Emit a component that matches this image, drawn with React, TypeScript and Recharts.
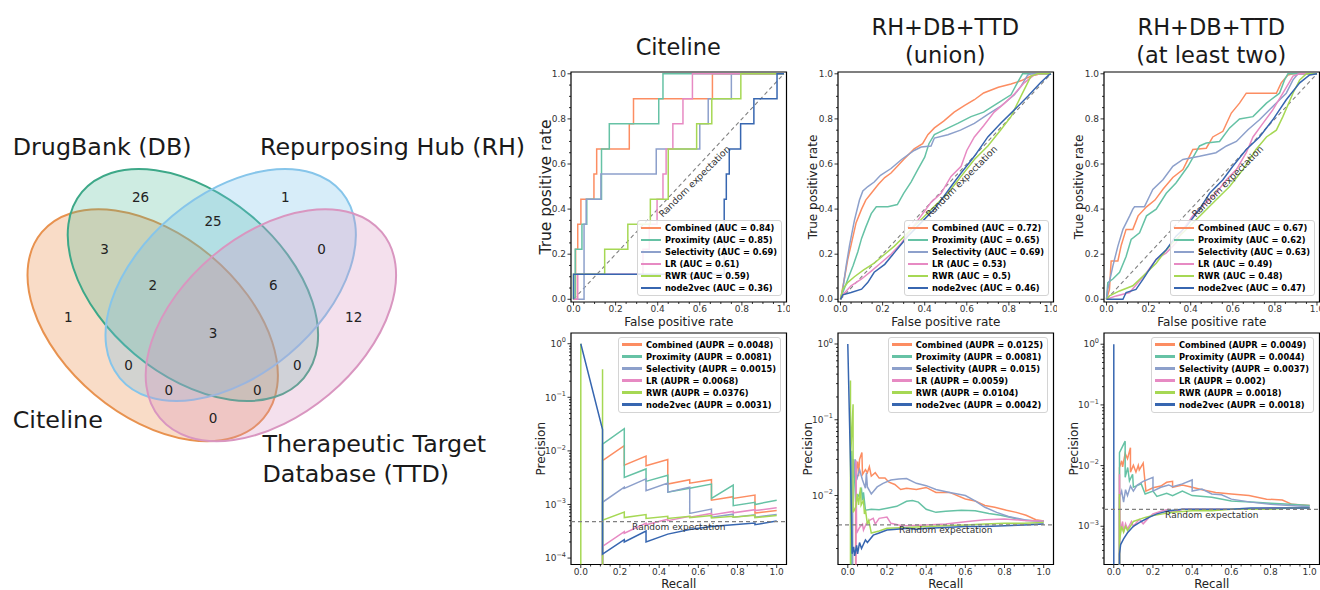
import React from 'react';
import {
  LineChart,
  Line,
  XAxis,
  YAxis,
  ReferenceLine,
  ReferenceArea,
  ReferenceDot,
  Legend,
  ScatterChart,
  Scatter,
} from 'recharts';

const FONT = '"DejaVu Sans", Verdana, Arial, sans-serif';

// ---- methods / legend values ----
const methods = ['Combined', 'Proximity', 'Selectivity', 'LR', 'RWR', 'node2vec'];
const methodColors = ['#fc8d62', '#66c2a5', '#8da0cb', '#e78ac3', '#a6d854', '#3766b0'];

const panelTitles = [['Citeline'], ['RH+DB+TTD', '(union)'], ['RH+DB+TTD', '(at least two)']];

const rocAuc = [
  [0.84, 0.85, 0.69, 0.61, 0.59, 0.36],
  [0.72, 0.65, 0.69, 0.53, 0.5, 0.46],
  [0.67, 0.62, 0.63, 0.49, 0.48, 0.47],
];
const prAupr = [
  [0.0048, 0.0081, 0.0015, 0.0068, 0.0376, 0.0031],
  [0.0125, 0.0081, 0.015, 0.0059, 0.0104, 0.0042],
  [0.0049, 0.0044, 0.0037, 0.002, 0.0018, 0.0018],
];
const prRandom = [0.00048, 0.0041, 0.0019];

// ---- ticks ----
const linTicks = [0, 0.2, 0.4, 0.6, 0.8, 1.0];
const linMinorTicks = [0.05, 0.1, 0.15, 0.25, 0.3, 0.35, 0.45, 0.5, 0.55, 0.65, 0.7, 0.75, 0.85, 0.9, 0.95];
const logTicks = [1e-4, 1e-3, 1e-2, 1e-1, 1];
const logTickExp = ['\u22124', '\u22123', '\u22122', '\u22121', '0'];
const logMinorMult = [2, 3, 4, 5, 6, 7, 8, 9];

// ---- ROC: Citeline ----
type Pt = [number, number];
const rocCiteCombined: Pt[] = [[0,0],[0.01,0],[0.01,0.222],[0.02,0.222],[0.02,0.333],[0.035,0.333],[0.035,0.444],[0.097,0.444],[0.097,0.556],[0.11,0.556],[0.11,0.667],[0.265,0.667],[0.265,0.778],[0.285,0.778],[0.285,0.889],[0.66,0.889],[0.66,1],[1,1]];
const rocCiteProximity: Pt[] = [[0,0],[0.008,0],[0.008,0.222],[0.04,0.222],[0.04,0.333],[0.063,0.333],[0.063,0.444],[0.133,0.444],[0.133,0.667],[0.17,0.667],[0.17,0.778],[0.405,0.778],[0.405,0.889],[0.425,0.889],[0.425,1],[1,1]];
const rocCiteSelectivity: Pt[] = [[0,0],[0.05,0],[0.05,0.333],[0.06,0.333],[0.06,0.444],[0.13,0.444],[0.13,0.556],[0.393,0.556],[0.393,0.667],[0.6,0.667],[0.6,0.778],[0.64,0.778],[0.64,0.889],[0.75,0.889],[0.75,1],[1,1]];
const rocCiteLR: Pt[] = [[0,0],[0.02,0],[0.02,0.111],[0.33,0.111],[0.33,0.222],[0.36,0.222],[0.36,0.333],[0.397,0.333],[0.397,0.444],[0.425,0.444],[0.425,0.556],[0.44,0.556],[0.44,0.667],[0.472,0.667],[0.472,0.778],[0.52,0.778],[0.52,0.889],[0.565,0.889],[0.565,1],[1,1]];
const rocCiteRWR: Pt[] = [[0,0],[0,0.111],[0.148,0.111],[0.148,0.222],[0.258,0.222],[0.258,0.333],[0.365,0.333],[0.365,0.444],[0.45,0.444],[0.45,0.667],[0.585,0.667],[0.585,0.778],[0.657,0.778],[0.657,0.889],[0.795,0.889],[0.795,1],[1,1]];
const rocCiteNode2vec: Pt[] = [[0,0],[0,0.111],[0.716,0.111],[0.716,0.444],[0.726,0.444],[0.726,0.556],[0.74,0.556],[0.74,0.667],[0.794,0.667],[0.794,0.778],[0.857,0.778],[0.857,0.889],[0.967,0.889],[0.967,1],[1,1]];

// ---- ROC: union ----
const rocUnionCombined: Pt[] = [[0,0],[0.006,0.03],[0.02,0.1],[0.035,0.18],[0.05,0.24],[0.074,0.34],[0.1,0.4],[0.12,0.44],[0.146,0.47],[0.18,0.51],[0.21,0.54],[0.24,0.56],[0.27,0.59],[0.3,0.62],[0.35,0.667],[0.39,0.69],[0.415,0.73],[0.446,0.76],[0.49,0.79],[0.54,0.83],[0.59,0.86],[0.636,0.885],[0.68,0.915],[0.75,0.94],[0.81,0.955],[0.86,0.97],[0.905,0.99],[0.95,1],[1,1]];
const rocUnionProximity: Pt[] = [[0,0],[0.011,0.03],[0.035,0.09],[0.06,0.15],[0.082,0.21],[0.1,0.27],[0.12,0.32],[0.146,0.38],[0.17,0.41],[0.225,0.41],[0.27,0.42],[0.3,0.47],[0.335,0.52],[0.367,0.575],[0.4,0.63],[0.42,0.69],[0.446,0.73],[0.49,0.75],[0.557,0.78],[0.62,0.81],[0.68,0.83],[0.747,0.87],[0.81,0.907],[0.84,0.96],[0.865,1],[1,1]];
const rocUnionSelectivity: Pt[] = [[0,0],[0.011,0.045],[0.027,0.15],[0.043,0.24],[0.066,0.35],[0.09,0.44],[0.106,0.48],[0.13,0.5],[0.16,0.52],[0.19,0.55],[0.24,0.58],[0.29,0.62],[0.35,0.66],[0.383,0.675],[0.43,0.68],[0.446,0.715],[0.51,0.73],[0.57,0.75],[0.636,0.78],[0.7,0.82],[0.76,0.855],[0.826,0.907],[0.857,0.944],[0.89,0.995],[0.905,1],[1,1]];
const rocUnionLR: Pt[] = [[0,0],[0.011,0.02],[0.05,0.06],[0.1,0.09],[0.146,0.125],[0.19,0.16],[0.24,0.2],[0.29,0.25],[0.335,0.31],[0.383,0.37],[0.43,0.43],[0.478,0.47],[0.525,0.545],[0.573,0.59],[0.6,0.66],[0.636,0.72],[0.68,0.77],[0.73,0.83],[0.78,0.87],[0.826,0.91],[0.873,0.96],[0.92,0.995],[0.95,1],[1,1]];
const rocUnionRWR: Pt[] = [[0,0],[0.011,0.045],[0.035,0.075],[0.066,0.1],[0.11,0.13],[0.16,0.16],[0.21,0.2],[0.256,0.236],[0.32,0.295],[0.383,0.354],[0.446,0.413],[0.51,0.47],[0.573,0.545],[0.636,0.62],[0.7,0.68],[0.76,0.75],[0.81,0.81],[0.857,0.9],[0.905,0.99],[0.937,1],[1,1]];
const rocUnionNode2vec: Pt[] = [[0,0],[0.011,0.02],[0.05,0.03],[0.1,0.045],[0.13,0.075],[0.16,0.12],[0.21,0.155],[0.256,0.207],[0.32,0.28],[0.383,0.34],[0.446,0.4],[0.478,0.44],[0.525,0.5],[0.573,0.56],[0.636,0.634],[0.7,0.72],[0.76,0.78],[0.826,0.84],[0.89,0.9],[0.95,0.96],[0.99,0.995],[1,1]];

// ---- ROC: at least two ----
const rocTwoCombined: Pt[] = [[0,0],[0.014,0.044],[0.022,0.17],[0.054,0.17],[0.07,0.24],[0.093,0.31],[0.125,0.31],[0.15,0.37],[0.19,0.41],[0.23,0.44],[0.27,0.49],[0.315,0.54],[0.363,0.575],[0.41,0.664],[0.474,0.67],[0.505,0.72],[0.553,0.745],[0.593,0.826],[0.632,0.87],[0.664,0.914],[0.807,0.914],[0.83,0.96],[0.862,0.995],[0.886,1],[1,1]];
const rocTwoProximity: Pt[] = [[0,0],[0.006,0.074],[0.03,0.09],[0.062,0.12],[0.093,0.19],[0.117,0.265],[0.157,0.295],[0.19,0.37],[0.236,0.4],[0.284,0.47],[0.33,0.516],[0.387,0.59],[0.442,0.68],[0.474,0.693],[0.537,0.7],[0.585,0.76],[0.632,0.8],[0.696,0.81],[0.76,0.87],[0.822,0.914],[0.846,0.973],[0.862,1],[1,1]];
const rocTwoSelectivity: Pt[] = [[0,0],[0.006,0.044],[0.03,0.147],[0.054,0.236],[0.078,0.31],[0.11,0.37],[0.125,0.4],[0.133,0.41],[0.18,0.41],[0.22,0.487],[0.268,0.53],[0.315,0.59],[0.363,0.62],[0.442,0.634],[0.52,0.65],[0.57,0.68],[0.617,0.7],[0.672,0.752],[0.727,0.796],[0.79,0.855],[0.854,0.914],[0.886,0.973],[0.91,1],[1,1]];
const rocTwoLR: Pt[] = [[0,0],[0.046,0.015],[0.11,0.03],[0.15,0.074],[0.19,0.118],[0.236,0.177],[0.284,0.206],[0.33,0.25],[0.363,0.31],[0.41,0.37],[0.474,0.43],[0.52,0.47],[0.57,0.53],[0.617,0.575],[0.664,0.65],[0.696,0.72],[0.743,0.78],[0.79,0.84],[0.838,0.914],[0.886,0.99],[0.918,1],[1,1]];
const rocTwoRWR: Pt[] = [[0,0],[0.014,0.015],[0.062,0.037],[0.125,0.06],[0.19,0.118],[0.236,0.16],[0.284,0.22],[0.33,0.265],[0.395,0.324],[0.458,0.383],[0.52,0.44],[0.585,0.5],[0.648,0.575],[0.71,0.664],[0.76,0.72],[0.807,0.75],[0.838,0.81],[0.886,0.914],[0.918,0.973],[0.95,1],[1,1]];
const rocTwoNode2vec: Pt[] = [[0,0],[0.078,0],[0.093,0.03],[0.14,0.044],[0.173,0.088],[0.204,0.133],[0.236,0.177],[0.284,0.22],[0.33,0.28],[0.38,0.324],[0.442,0.4],[0.49,0.47],[0.553,0.53],[0.6,0.59],[0.664,0.664],[0.727,0.72],[0.79,0.796],[0.854,0.885],[0.918,0.96],[0.965,0.995],[1,1]];

// ---- PR: Citeline (1e-100 = zero precision, clipped off the log axis) ----
const prCiteCombined: Pt[] = [[0,1e-100],[0.111,1e-100],[0.111,0.0066],[0.222,0.0125],[0.222,0.0054],[0.333,0.008],[0.333,0.0053],[0.444,0.0069],[0.444,0.0024],[0.556,0.0029],[0.556,0.0025],[0.667,0.0029],[0.667,0.0012],[0.778,0.0014],[0.778,0.0013],[0.889,0.0015],[0.889,0.00069],[1,0.00077]];
const prCiteProximity: Pt[] = [[0,1e-100],[0.111,1e-100],[0.111,0.0134],[0.222,0.026],[0.222,0.0032],[0.333,0.0046],[0.333,0.0027],[0.444,0.0035],[0.444,0.0017],[0.556,0.002],[0.667,0.0024],[0.667,0.0013],[0.778,0.0023],[0.778,0.00095],[0.889,0.0011],[0.889,0.001],[1,0.0012]];
const prCiteSelectivity: Pt[] = [[0,1e-100],[0.111,1e-100],[0.111,0.0011],[0.222,0.0021],[0.222,0.002],[0.333,0.003],[0.333,0.0018],[0.444,0.0025],[0.444,0.0017],[0.556,0.0021],[0.556,0.00068],[0.667,0.00082],[0.667,0.00058],[0.778,0.00066],[0.778,0.00058],[0.889,0.00064],[0.889,0.00058],[1,0.00065]];
const prCiteLR: Pt[] = [[0,1e-100],[0.111,1e-100],[0.111,0.000165],[0.222,0.00031],[0.222,0.00029],[0.333,0.00045],[0.333,0.00042],[0.444,0.00053],[0.444,0.0005],[0.556,0.0006],[0.556,0.00058],[0.667,0.00068],[0.667,0.00064],[0.778,0.00074],[0.778,0.0007],[0.889,0.0008],[0.889,0.00077],[1,0.00087]];
const prCiteRWR: Pt[] = [[0,1],[0,1e-100],[0.111,1e-100],[0.111,0.333],[0.111,0.00051],[0.222,0.00072],[0.222,0.00057],[0.333,0.00065],[0.333,0.00055],[0.444,0.0006],[0.444,0.00055],[0.556,0.0006],[0.556,0.00057],[0.667,0.00062],[0.667,0.00056],[0.778,0.0006],[0.778,0.00058],[0.889,0.00063],[0.889,0.00057],[1,0.00062]];
const prCiteNode2vec: Pt[] = [[0,1],[0.111,0.025],[0.111,0.000119],[0.222,0.00022],[0.222,0.0002],[0.333,0.00032],[0.333,0.0002],[0.444,0.00028],[0.556,0.00034],[0.667,0.00039],[0.778,0.00042],[0.889,0.00045],[0.889,0.00042],[1,0.00049]];

// ---- PR: union ----
const prUnionCombined: Pt[] = [[0,1e-100],[0.04,1e-100],[0.04,0.02],[0.05,0.028],[0.055,0.018],[0.06,0.03],[0.072,0.037],[0.075,0.019],[0.09,0.022],[0.1,0.02],[0.11,0.024],[0.12,0.018],[0.14,0.02],[0.16,0.017],[0.19,0.017],[0.21,0.015],[0.24,0.014],[0.27,0.012],[0.3,0.0125],[0.35,0.012],[0.4,0.0128],[0.45,0.011],[0.52,0.011],[0.6,0.009],[0.65,0.0085],[0.7,0.0074],[0.75,0.007],[0.81,0.0064],[0.86,0.006],[0.91,0.0055],[0.96,0.0048],[1,0.0046]];
const prUnionProximity: Pt[] = [[0,1e-100],[0.02,1e-100],[0.02,0.039],[0.025,0.017],[0.03,0.03],[0.04,0.0086],[0.06,0.0105],[0.07,0.012],[0.075,0.0086],[0.08,0.011],[0.09,0.0064],[0.12,0.0066],[0.16,0.0065],[0.2,0.0068],[0.25,0.0072],[0.3,0.0084],[0.33,0.0086],[0.36,0.0082],[0.4,0.0066],[0.45,0.006],[0.5,0.0062],[0.58,0.0064],[0.65,0.0063],[0.72,0.0058],[0.78,0.0055],[0.85,0.005],[0.91,0.0047],[1,0.0046]];
const prUnionSelectivity: Pt[] = [[0,1e-100],[0.025,1e-100],[0.025,0.03],[0.03,0.018],[0.038,0.03],[0.045,0.016],[0.06,0.022],[0.075,0.016],[0.09,0.0125],[0.095,0.02],[0.1,0.013],[0.12,0.0105],[0.15,0.013],[0.18,0.0145],[0.22,0.016],[0.26,0.0165],[0.3,0.0168],[0.35,0.0145],[0.4,0.0135],[0.45,0.012],[0.52,0.011],[0.6,0.01],[0.65,0.0085],[0.7,0.007],[0.76,0.006],[0.82,0.0053],[0.9,0.0048],[1,0.0045]];
const prUnionLR: Pt[] = [[0,1e-100],[0.042,1e-100],[0.042,0.029],[0.045,0.0032],[0.06,0.0038],[0.075,0.0042],[0.08,0.0035],[0.095,0.0043],[0.11,0.0047],[0.13,0.005],[0.14,0.0042],[0.16,0.005],[0.2,0.0052],[0.22,0.0043],[0.26,0.0041],[0.3,0.004],[0.4,0.0041],[0.5,0.0042],[0.6,0.0045],[0.7,0.0048],[0.8,0.0049],[0.9,0.0047],[1,0.0046]];
const prUnionRWR: Pt[] = [[0,1e-100],[0.0137,1e-100],[0.0137,0.33],[0.0137,0.03],[0.027,0.16],[0.027,0.006],[0.041,0.0071],[0.048,0.0105],[0.055,0.0075],[0.065,0.0128],[0.068,0.0075],[0.08,0.0086],[0.085,0.0057],[0.09,0.0065],[0.1,0.0042],[0.107,0.0047],[0.12,0.0032],[0.14,0.0033],[0.16,0.0034],[0.2,0.0037],[0.3,0.0038],[0.4,0.0039],[0.5,0.004],[0.6,0.0041],[0.7,0.0042],[0.8,0.0043],[0.9,0.0043],[1,0.0044]];
const prUnionNode2vec: Pt[] = [[0,1],[0.014,0.024],[0.02,0.0035],[0.022,0.0017],[0.03,0.0021],[0.035,0.0016],[0.045,0.0022],[0.05,0.0017],[0.06,0.0024],[0.07,0.002],[0.09,0.0026],[0.1,0.0024],[0.13,0.003],[0.16,0.0032],[0.2,0.0035],[0.25,0.0036],[0.3,0.0037],[0.35,0.0036],[0.4,0.0037],[0.5,0.0038],[0.6,0.0039],[0.7,0.0039],[0.8,0.004],[0.9,0.0041],[1,0.0042]];

// ---- PR: at least two ----
const prTwoCombined: Pt[] = [[0,1e-100],[0.029,1e-100],[0.029,0.0093],[0.04,0.012],[0.045,0.0095],[0.058,0.016],[0.07,0.013],[0.085,0.0197],[0.085,0.0078],[0.1,0.0101],[0.113,0.0078],[0.125,0.0101],[0.13,0.0085],[0.15,0.011],[0.164,0.0038],[0.2,0.0043],[0.24,0.0046],[0.27,0.0053],[0.3,0.0055],[0.3,0.0044],[0.35,0.0048],[0.4,0.0044],[0.45,0.004],[0.52,0.0036],[0.6,0.0034],[0.69,0.0032],[0.78,0.0028],[0.86,0.0027],[0.91,0.0023],[1,0.0022]];
const prTwoProximity: Pt[] = [[0,1e-100],[0.029,1e-100],[0.029,0.0163],[0.058,0.0253],[0.058,0.0064],[0.071,0.0093],[0.08,0.0056],[0.096,0.0072],[0.1,0.0044],[0.14,0.005],[0.16,0.0034],[0.2,0.0038],[0.22,0.0031],[0.27,0.0035],[0.3,0.0032],[0.35,0.0038],[0.4,0.0032],[0.5,0.003],[0.6,0.0026],[0.7,0.0025],[0.8,0.0024],[0.9,0.0023],[1,0.0022]];
const prTwoSelectivity: Pt[] = [[0,1e-100],[0.029,1e-100],[0.029,0.003],[0.04,0.0038],[0.05,0.0025],[0.06,0.004],[0.07,0.0032],[0.085,0.0046],[0.1,0.0038],[0.12,0.0048],[0.15,0.0055],[0.2,0.0064],[0.2,0.0038],[0.24,0.0044],[0.28,0.0048],[0.3,0.0045],[0.35,0.005],[0.4,0.0058],[0.4,0.0038],[0.45,0.0041],[0.5,0.0034],[0.55,0.0033],[0.6,0.0028],[0.7,0.0025],[0.8,0.0023],[1,0.0021]];
const prTwoLR: Pt[] = [[0,1e-100],[0.029,1e-100],[0.029,0.0072],[0.032,0.0008],[0.045,0.0012],[0.05,0.0008],[0.06,0.0011],[0.07,0.0009],[0.09,0.0012],[0.1,0.001],[0.13,0.0013],[0.15,0.0011],[0.18,0.0014],[0.2,0.0016],[0.25,0.0018],[0.28,0.0019],[0.3,0.0017],[0.35,0.0019],[0.4,0.0019],[0.5,0.0019],[0.6,0.0019],[0.7,0.0019],[0.8,0.002],[0.9,0.002],[1,0.002]];
const prTwoRWR: Pt[] = [[0,1e-100],[0.029,1e-100],[0.029,0.0034],[0.03,0.0006],[0.04,0.001],[0.05,0.0008],[0.06,0.001],[0.07,0.00085],[0.085,0.001],[0.1,0.0012],[0.13,0.0013],[0.16,0.0014],[0.2,0.0015],[0.25,0.0016],[0.3,0.0017],[0.4,0.0018],[0.5,0.0018],[0.6,0.0019],[0.7,0.0019],[0.8,0.0019],[0.9,0.002],[1,0.002]];
const prTwoNode2vec: Pt[] = [[0,1],[0,1e-100],[0.029,1e-100],[0.029,0.00035],[0.035,0.0005],[0.05,0.00062],[0.07,0.00078],[0.1,0.001],[0.14,0.0012],[0.18,0.0014],[0.22,0.0016],[0.28,0.0018],[0.35,0.0019],[0.4,0.0019],[0.5,0.0019],[0.6,0.0019],[0.7,0.002],[0.8,0.002],[0.9,0.002],[1,0.002]];

const rocCurves = [
  [rocCiteCombined, rocCiteProximity, rocCiteSelectivity, rocCiteLR, rocCiteRWR, rocCiteNode2vec],
  [rocUnionCombined, rocUnionProximity, rocUnionSelectivity, rocUnionLR, rocUnionRWR, rocUnionNode2vec],
  [rocTwoCombined, rocTwoProximity, rocTwoSelectivity, rocTwoLR, rocTwoRWR, rocTwoNode2vec],
];
const prCurves = [
  [prCiteCombined, prCiteProximity, prCiteSelectivity, prCiteLR, prCiteRWR, prCiteNode2vec],
  [prUnionCombined, prUnionProximity, prUnionSelectivity, prUnionLR, prUnionRWR, prUnionNode2vec],
  [prTwoCombined, prTwoProximity, prTwoSelectivity, prTwoLR, prTwoRWR, prTwoNode2vec],
];

// ---- Venn ----
const vennSetNames = ['Citeline', 'DrugBank (DB)', 'Repurposing Hub (RH)', 'Therapeutic Target Database (TTD)'];
const vennRegionKeys = ['1000', '0100', '0010', '0001', '1100', '1010', '1001', '0110', '0101', '0011', '1110', '1101', '1011', '0111', '1111'];
const vennRegionCounts = [1, 26, 1, 12, 3, 0, 0, 25, 0, 0, 2, 0, 0, 6, 3];
// layout (pyvenn-style unit square)
const vennRegionAnchorX = [0.14, 0.32, 0.68, 0.85, 0.23, 0.29, 0.5, 0.5, 0.71, 0.77, 0.35, 0.61, 0.39, 0.65, 0.5];
const vennRegionAnchorY = [0.42, 0.72, 0.72, 0.42, 0.59, 0.3, 0.17, 0.66, 0.3, 0.59, 0.5, 0.24, 0.24, 0.5, 0.38];
const vennEllipseX = [0.35, 0.45, 0.544, 0.644];
const vennEllipseY = [0.4, 0.5, 0.5, 0.4];
const vennEllipseAngle = [140, 140, 40, 40];
const vennEllipseW = 0.72;
const vennEllipseH = 0.45;
const vennFill = ['rgba(235,140,70,0.30)', 'rgba(60,180,140,0.25)', 'rgba(110,190,235,0.28)', 'rgba(215,140,190,0.27)'];
const vennStroke = ['#e8924f', '#3da888', '#86c5ea', '#d996c0'];

// ---- geometry ----
const COL_LEFT = [570.5, 837.5, 1103.5];
const PLOT_W = 215.5;
const ROC_TOP = 72;
const ROC_H = 230;
const PR_TOP = 332.5;
const PR_H = 231.5;
const Y_AXIS_W = 40;
const X_AXIS_H = 30;
const M_TOP = 4;
const M_RIGHT = 4;
const ROC_X_DOMAIN: [number, number] = [-0.012, 1.012];
const ROC_Y_DOMAIN: [number, number] = [-0.012, 1.008];
const PR_X_DOMAIN: [number, number] = [-0.05, 1.05];
const PR_Y_DOMAINS: [number, number][] = [
  [Math.pow(10, -4.12), Math.pow(10, 0.2)],
  [Math.pow(10, -2.91), Math.pow(10, 0.145)],
  [Math.pow(10, -3.63), Math.pow(10, 0.185)],
];
const ROC_YLABEL_SIZE = [15.5, 12, 12];
const VENN_LEFT = 11.5;
const VENN_TOP = 84.3;
const VENN_PX = 402;

const toRows = (pts: Pt[]) => pts.map(([x, y]) => ({ x, y }));
const isMajor = (list: number[], v: number) => list.some((m) => Math.abs(m - v) <= 1e-6 * Math.max(Math.abs(m), 1e-9));

const BottomTick = (p: any) => {
  const { x, y, payload } = p;
  const v = payload.value;
  const major = isMajor(linTicks, v);
  return (
    <g>
      <line x1={x} x2={x} y1={y} y2={y + (major ? 3.5 : 2)} stroke="#000" strokeWidth={0.8} />
      {major && (
        <text x={x} y={y + 10} textAnchor="middle" fontSize={9} fontFamily={FONT} fill="#333">
          {v.toFixed(1)}
        </text>
      )}
    </g>
  );
};

const LeftLinTick = (p: any) => {
  const { x, y, payload } = p;
  const v = payload.value;
  const major = isMajor(linTicks, v);
  return (
    <g>
      <line x1={x} x2={x - (major ? 3.5 : 2)} y1={y} y2={y} stroke="#000" strokeWidth={0.8} />
      {major && (
        <text x={x - 5} y={y + 3.2} textAnchor="end" fontSize={9} fontFamily={FONT} fill="#333">
          {v.toFixed(1)}
        </text>
      )}
    </g>
  );
};

const LeftLogTick = (p: any) => {
  const { x, y, payload } = p;
  const v = payload.value;
  const idx = logTicks.findIndex((m) => Math.abs(m - v) / m < 1e-6);
  const major = idx >= 0;
  return (
    <g>
      <line x1={x} x2={x - (major ? 3.5 : 2)} y1={y} y2={y} stroke="#000" strokeWidth={0.8} />
      {major && (
        <text x={x - 5} y={y + 3.2} textAnchor="end" fontSize={9} fontFamily={FONT} fill="#333">
          10
          <tspan dy={-4.5} fontSize={6.5}>
            {logTickExp[idx]}
          </tspan>
        </text>
      )}
    </g>
  );
};

const xTitle = (text: string, dy: number, size: number) => (p: any) => {
  const vb = p.viewBox || {};
  return (
    <text x={vb.x + vb.width / 2} y={vb.y + dy} textAnchor="middle" fontSize={size} fontFamily={FONT} fill="#222">
      {text}
    </text>
  );
};

const yTitle = (text: string, dx: number, size: number) => (p: any) => {
  const vb = p.viewBox || {};
  const cx = vb.x + vb.width - dx;
  const cy = vb.y + vb.height / 2;
  return (
    <text
      x={cx}
      y={cy}
      transform={`rotate(-90 ${cx} ${cy})`}
      textAnchor="middle"
      dominantBaseline="central"
      fontSize={size}
      fontFamily={FONT}
      fill="#222"
    >
      {text}
    </text>
  );
};

const CurveLegend = (props: any) => {
  const items = [...(props.payload ?? [])].sort(
    (a: any, b: any) =>
      methods.indexOf(String(a.value).split(' ')[0]) - methods.indexOf(String(b.value).split(' ')[0])
  );
  return (
    <div
      style={{
        border: '1px solid #d4d4d4',
        borderRadius: 3,
        background: 'rgba(255,255,255,0.85)',
        padding: '1px 4px 1px 3px',
      }}
    >
      {items.map((it: any) => (
        <div key={it.value} style={{ display: 'flex', alignItems: 'center', height: 12, whiteSpace: 'nowrap' }}>
          <span style={{ display: 'inline-block', width: 20, height: 2.6, background: it.color, marginRight: 4, flex: 'none' }} />
          <span style={{ fontFamily: FONT, fontWeight: 700, fontSize: 8.3, color: '#000', lineHeight: '12px' }}>
            {it.value}
          </span>
        </div>
      ))}
    </div>
  );
};

const DiagLabel = (p: any) => {
  const vb = p.viewBox || {};
  const cx = vb.x + 5;
  const cy = vb.y + 6;
  return (
    <text
      x={cx}
      y={cy}
      transform={`rotate(-45 ${cx} ${cy})`}
      textAnchor="middle"
      dominantBaseline="central"
      fontSize={9.3}
      fontFamily={FONT}
      fill="#333"
    >
      Random expectation
    </text>
  );
};

const FlatLabel = (p: any) => {
  const vb = p.viewBox || {};
  return (
    <text x={vb.x} y={vb.y + 5.5} textAnchor="middle" dominantBaseline="central" fontSize={9} fontFamily={FONT} fill="#333">
      Random expectation
    </text>
  );
};

function RocPanel({ col }: { col: number }) {
  const width = Y_AXIS_W + PLOT_W + M_RIGHT;
  const height = M_TOP + ROC_H + X_AXIS_H;
  return (
    <div style={{ position: 'absolute', left: COL_LEFT[col] - Y_AXIS_W, top: ROC_TOP - M_TOP }}>
      <LineChart width={width} height={height} margin={{ top: M_TOP, right: M_RIGHT, bottom: 0, left: 0 }}>
        <XAxis
          type="number"
          dataKey="x"
          domain={ROC_X_DOMAIN}
          allowDataOverflow
          ticks={[...linTicks, ...linMinorTicks]}
          interval={0}
          axisLine={false}
          tickLine={false}
          tickSize={0}
          tickMargin={0}
          height={X_AXIS_H}
          tick={BottomTick}
          label={xTitle('False positive rate', 24, 12)}
        />
        <YAxis
          type="number"
          dataKey="y"
          domain={ROC_Y_DOMAIN}
          allowDataOverflow
          ticks={[...linTicks, ...linMinorTicks]}
          interval={0}
          axisLine={false}
          tickLine={false}
          tickSize={0}
          tickMargin={0}
          width={Y_AXIS_W}
          tick={LeftLinTick}
          label={yTitle('True positive rate', 25.5, ROC_YLABEL_SIZE[col])}
        />
        <ReferenceLine
          segment={[{ x: 0, y: 0 }, { x: 1, y: 1 }]}
          stroke="#808080"
          strokeDasharray="4 3"
          strokeWidth={1.1}
          ifOverflow="visible"
        />
        {methods.map((m, i) => (
          <Line
            key={m}
            data={toRows(rocCurves[col][i])}
            dataKey="y"
            name={`${m} (AUC = ${rocAuc[col][i]})`}
            type="linear"
            stroke={methodColors[i]}
            strokeWidth={1.5}
            dot={false}
            activeDot={false}
            isAnimationActive={false}
          />
        ))}
        <ReferenceDot x={0.55} y={0.55} r={0} fill="none" stroke="none" ifOverflow="visible" label={DiagLabel} />
        <ReferenceArea
          x1={ROC_X_DOMAIN[0]}
          x2={ROC_X_DOMAIN[1]}
          y1={ROC_Y_DOMAIN[0]}
          y2={ROC_Y_DOMAIN[1]}
          fill="none"
          fillOpacity={0}
          stroke="#000"
          strokeWidth={1.2}
          ifOverflow="visible"
        />
        <Legend
          layout="vertical"
          align="center"
          verticalAlign="middle"
          wrapperStyle={{ right: 8, bottom: 36, width: 'auto', height: 'auto' }}
          content={CurveLegend}
        />
      </LineChart>
    </div>
  );
}

function PrPanel({ col }: { col: number }) {
  const width = Y_AXIS_W + PLOT_W + M_RIGHT;
  const height = M_TOP + PR_H + X_AXIS_H;
  const yDomain = PR_Y_DOMAINS[col];
  const minor: number[] = [];
  logTicks.forEach((d) => {
    logMinorMult.forEach((k) => {
      const v = d * k;
      if (v > yDomain[0] && v < yDomain[1]) minor.push(v);
    });
  });
  const yTicks = [...logTicks.filter((v) => v >= yDomain[0] && v <= yDomain[1]), ...minor];
  return (
    <div style={{ position: 'absolute', left: COL_LEFT[col] - Y_AXIS_W, top: PR_TOP - M_TOP }}>
      <LineChart width={width} height={height} margin={{ top: M_TOP, right: M_RIGHT, bottom: 0, left: 0 }}>
        <XAxis
          type="number"
          dataKey="x"
          domain={PR_X_DOMAIN}
          allowDataOverflow
          ticks={[...linTicks, ...linMinorTicks]}
          interval={0}
          axisLine={false}
          tickLine={false}
          tickSize={0}
          tickMargin={0}
          height={X_AXIS_H}
          tick={BottomTick}
          label={xTitle('Recall', 23, 11.8)}
        />
        <YAxis
          type="number"
          dataKey="y"
          scale="log"
          domain={yDomain}
          allowDataOverflow
          ticks={yTicks}
          interval={0}
          axisLine={false}
          tickLine={false}
          tickSize={0}
          tickMargin={0}
          width={Y_AXIS_W}
          tick={LeftLogTick}
          label={yTitle('Precision', 30.5, 12)}
        />
        {methods.map((m, i) => (
          <Line
            key={m}
            data={toRows(prCurves[col][i])}
            dataKey="y"
            name={`${m} (AUPR = ${prAupr[col][i]})`}
            type="linear"
            stroke={methodColors[i]}
            strokeWidth={1.5}
            dot={false}
            activeDot={false}
            isAnimationActive={false}
          />
        ))}
        <ReferenceLine y={prRandom[col]} stroke="#808080" strokeDasharray="4 3" strokeWidth={1.2} />
        <ReferenceDot x={0.5} y={prRandom[col]} r={0} fill="none" stroke="none" ifOverflow="visible" label={FlatLabel} />
        <ReferenceArea
          x1={PR_X_DOMAIN[0]}
          x2={PR_X_DOMAIN[1]}
          y1={yDomain[0]}
          y2={yDomain[1]}
          fill="none"
          fillOpacity={0}
          stroke="#000"
          strokeWidth={1.2}
          ifOverflow="visible"
        />
        <Legend
          layout="vertical"
          align="center"
          verticalAlign="middle"
          wrapperStyle={{ right: 9, top: 8, width: 'auto', height: 'auto' }}
          content={CurveLegend}
        />
      </LineChart>
    </div>
  );
}

const VennEllipse = (p: any) => {
  const d = p.payload;
  return (
    <ellipse
      cx={p.cx}
      cy={p.cy}
      rx={(vennEllipseW / 2) * VENN_PX}
      ry={(vennEllipseH / 2) * VENN_PX}
      transform={`rotate(${-d.angle} ${p.cx} ${p.cy})`}
      fill={vennFill[d.i]}
      stroke={vennStroke[d.i]}
      strokeWidth={2}
    />
  );
};

const VennCount = (p: any) => (
  <text x={p.cx} y={p.cy} textAnchor="middle" dominantBaseline="central" fontSize={13.5} fontFamily={FONT} fill="#222">
    {p.payload.count}
  </text>
);

function Venn() {
  const ellipses = vennSetNames.map((name, i) => ({
    name,
    i,
    x: vennEllipseX[i],
    y: vennEllipseY[i],
    angle: vennEllipseAngle[i],
  }));
  const regions = vennRegionKeys.map((key, i) => ({
    key,
    count: vennRegionCounts[i],
    x: vennRegionAnchorX[i],
    y: vennRegionAnchorY[i],
  }));
  return (
    <div style={{ position: 'absolute', left: VENN_LEFT, top: VENN_TOP }}>
      <ScatterChart width={VENN_PX} height={VENN_PX} margin={{ top: 0, right: 0, bottom: 0, left: 0 }}>
        <XAxis type="number" dataKey="x" domain={[0, 1]} hide />
        <YAxis type="number" dataKey="y" domain={[0, 1]} hide />
        <Scatter data={ellipses} shape={VennEllipse} isAnimationActive={false} />
        <Scatter data={regions} shape={VennCount} isAnimationActive={false} />
      </ScatterChart>
    </div>
  );
}

export default function App() {
  const titleSize = 22.5;
  return (
    <div style={{ position: 'absolute', left: 0, top: 0, width: 1320, height: 590, background: '#fff', overflow: 'hidden' }}>
      <Venn />
      {[0, 1, 2].map((c) => (
        <RocPanel key={`roc${c}`} col={c} />
      ))}
      {[0, 1, 2].map((c) => (
        <PrPanel key={`pr${c}`} col={c} />
      ))}
      <svg width={1320} height={590} style={{ position: 'absolute', left: 0, top: 0, pointerEvents: 'none' }}>
        <g fontFamily={FONT} fontSize={23.8} fill="#1a1a1a">
          <text x={12.7} y={155}>{vennSetNames[1]}</text>
          <text x={260} y={155}>{vennSetNames[2]}</text>
          <text x={12.7} y={428}>{vennSetNames[0]}</text>
          <text x={262.5} y={452}>Therapeutic Target</text>
          <text x={262.5} y={482}>Database (TTD)</text>
        </g>
        <g fontFamily={FONT} fontSize={titleSize} fill="#1a1a1a" textAnchor="middle">
          {panelTitles.map((lines, c) => {
            const cx = COL_LEFT[c] + PLOT_W / 2;
            if (lines.length === 1) {
              return (
                <text key={c} x={cx} y={55}>
                  {lines[0]}
                </text>
              );
            }
            return (
              <text key={c} x={cx} y={35}>
                <tspan x={cx} dy={0}>
                  {lines[0]}
                </tspan>
                <tspan x={cx} dy={28}>
                  {lines[1]}
                </tspan>
              </text>
            );
          })}
        </g>
      </svg>
    </div>
  );
}
